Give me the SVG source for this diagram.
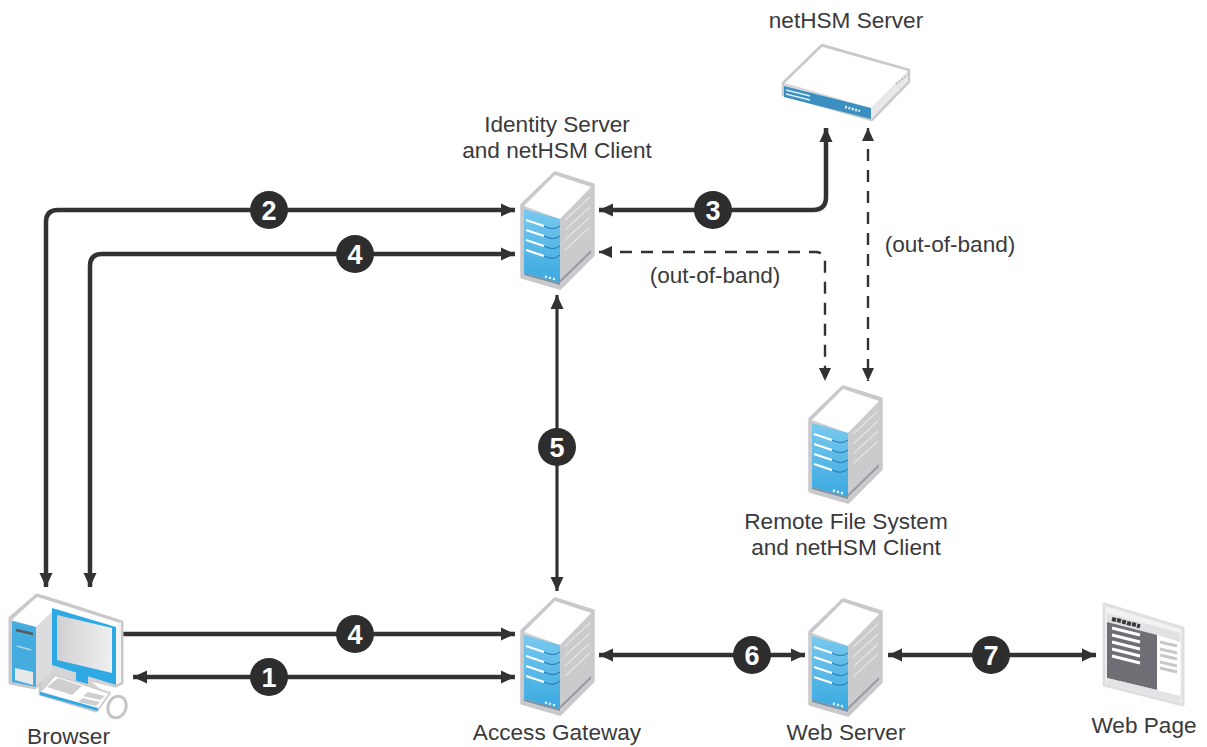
<svg xmlns="http://www.w3.org/2000/svg" xmlns:xlink="http://www.w3.org/1999/xlink" width="1207" height="747" viewBox="0 0 1207 747">
<style>
text{font-family:"Liberation Sans",Arial,sans-serif;font-size:22.6px;fill:#3a3a3c;text-anchor:middle}
.c{fill:none;stroke:#323232;stroke-width:4.5}
.t{fill:none;stroke:#323232;stroke-width:3.2}
.d{fill:none;stroke:#323232;stroke-width:2.4;stroke-dasharray:12 9}
.b{fill:#2d2d2d}
text.n{font-size:27px;font-weight:700;fill:#fff}
</style>
<defs>
<marker id="a" markerUnits="userSpaceOnUse" markerWidth="15" markerHeight="14" refX="14" refY="7" orient="auto-start-reverse"><path d="M0,0.5L14,7L0,13.5Z" fill="#323232"/></marker>
<marker id="e" markerUnits="userSpaceOnUse" markerWidth="14" markerHeight="14" refX="13" refY="6.5" orient="auto-start-reverse"><path d="M0,0.5L13,6.5L0,12.5Z" fill="#323232"/></marker>
<linearGradient id="bl" x1="0" y1="0" x2="0" y2="1"><stop offset="0" stop-color="#79c9ee"/><stop offset="1" stop-color="#3aa9e0"/></linearGradient>
<linearGradient id="sc" x1="0" y1="0" x2="1" y2="0"><stop offset="0" stop-color="#d0d0d2"/><stop offset="1" stop-color="#f0f0f0"/></linearGradient>
<g id="srv">
<path d="M33,0L71,12V82L38,115L0,104V32Z" fill="#cfcfd1" stroke="#c9c9cb" stroke-width="3.500" stroke-linejoin="round"/>
<path d="M2,33L33,2L69,14L38,46Z" fill="#fff"/>
<path d="M2,36L38,46V110L2,100Z" fill="url(#bl)"/>
<path d="M2,100L38,110V112L2,102Z" fill="#7d8fa0"/>
<path d="M38,46L69,16V80L38,110Z" fill="#cbcbcd"/>
<path d="M38,110L69,80V77L38,107Z" fill="#9a9aa6"/>
<path d="M4,47L22,53M4,57L22,63M4,67L22,73M4,77L22,83" stroke="#fff" stroke-width="2.200" fill="none"/>
<path d="M22,53Q31,58 38,53M22,63Q31,68 38,63M22,73Q31,78 38,73M22,83Q31,88 38,82" stroke="#2272b0" stroke-width="1" fill="none"/>
<path d="M43,47L68,24M43,57L68,34M43,67L68,44M43,77L68,54" stroke="#e4e4e4" stroke-width="1.300" fill="none"/>
<path d="M23,103.500l2,.6M27,104.600l2,.6M31,105.700l2,.6" stroke="#e8f4fb" stroke-width="2.400"/>
</g>
</defs>

<g id="connectors">
<path class="c" d="M515,210H58Q46,210 46,222V587" marker-start="url(#a)" marker-end="url(#a)"/>
<path class="c" d="M515,254H102Q90,254 90,266V587" marker-start="url(#a)" marker-end="url(#a)"/>
<path class="c" d="M122,634H515" marker-end="url(#a)"/>
<path class="c" d="M133,677H515" marker-start="url(#a)" marker-end="url(#a)"/>
<path class="c" d="M599,210H813Q826,210 826,197V128" marker-start="url(#a)" marker-end="url(#a)"/>
<path class="t" d="M557,295V591" marker-start="url(#a)" marker-end="url(#a)"/>
<path class="c" d="M599,655H805" marker-start="url(#a)" marker-end="url(#a)"/>
<path class="c" d="M888,655H1096" marker-start="url(#a)" marker-end="url(#a)"/>
<path class="d" d="M599,252H815Q825,252 825,262V381" marker-start="url(#e)" marker-end="url(#e)"/>
<path class="d" d="M868,128V381" marker-start="url(#e)" marker-end="url(#e)"/>
</g>

<g id="badge-2"><circle class="b" cx="269" cy="210" r="19"/><text class="n" x="269" y="219.500">2</text></g>
<g id="badge-4a"><circle class="b" cx="355" cy="254" r="19"/><text class="n" x="355" y="263.500">4</text></g>
<g id="badge-3"><circle class="b" cx="713" cy="210" r="19"/><text class="n" x="713" y="219.500">3</text></g>
<g id="badge-5"><circle class="b" cx="557" cy="447" r="19"/><text class="n" x="557" y="456.500">5</text></g>
<g id="badge-4b"><circle class="b" cx="355" cy="634" r="19"/><text class="n" x="355" y="643.500">4</text></g>
<g id="badge-1"><circle class="b" cx="269" cy="677" r="19"/><text class="n" x="269" y="686.500">1</text></g>
<g id="badge-6"><circle class="b" cx="752" cy="655" r="19"/><text class="n" x="752" y="664.500">6</text></g>
<g id="badge-7"><circle class="b" cx="991" cy="655" r="19"/><text class="n" x="991" y="664.500">7</text></g>

<g id="identity-server"><use href="#srv" x="522" y="173"/><text x="557" y="132">Identity Server</text><text x="557" y="158">and netHSM Client</text></g>
<g id="remote-file-system"><use href="#srv" x="810" y="387"/><text x="846" y="529">Remote File System</text><text x="846" y="555">and netHSM Client</text></g>
<g id="access-gateway"><use href="#srv" x="522" y="599"/><text x="557" y="740">Access Gateway</text></g>
<g id="web-server"><use href="#srv" x="810" y="600"/><text x="846" y="740">Web Server</text></g>

<g id="nethsm-server">
<text x="846" y="28">netHSM Server</text>
<path d="M822,45L909,70V82L872,120L783,95V83Z" fill="#d8d8da" stroke="#c9c9cb" stroke-width="2.500" stroke-linejoin="round"/>
<path d="M785,83L822,47L908,71L871,108Z" fill="#fff"/>
<path d="M784,86L871,108V119L784,97Z" fill="#3a8fc0"/>
<path d="M871,108L908,72V81L871,119Z" fill="#e8e8ea"/>
<path d="M786,90L810,96M786,94L810,100" stroke="#dbeef8" stroke-width="1.500"/>
<path d="M845,107L860,111" stroke="#e6f2f8" stroke-width="2.500" stroke-dasharray="2 1.500"/>
<path d="M896,84L908,75" stroke="#bdbdbf" stroke-width="2" stroke-dasharray="2 1.500"/>
</g>

<g id="browser">
<path d="M37,595L60,602L122,622V683L112,688L96,711L40,694V683L35,688L10,683V618Z" fill="#d4d4d6" stroke="#c9c9cb" stroke-width="3" stroke-linejoin="round"/>
<path d="M12,620L37,597L120,623L116,628L52,609L52,612L36,627Z" fill="#fff"/>
<path d="M12,621L36,627V687L12,682Z" fill="#45ace0"/>
<path d="M16,630L33,634" stroke="#5a5a5c" stroke-width="2.500"/>
<path d="M17,646L31,650" stroke="#b9d8ea" stroke-width="1.500"/>
<path d="M15,668L33,672V685L15,680Z" fill="#e9e9e9"/>
<path d="M36,627L52,612V670L36,686Z" fill="#dcdcde"/>
<path d="M52,608L116,627V685L52,665Z" fill="#2ea9e3"/>
<path d="M116,627L121,622V682L116,685Z" fill="#f4f4f4"/>
<path d="M57,615L112,628V673L57,660Z" fill="url(#sc)"/>
<path d="M76,667L88,670V684L76,681Z" fill="#2ea9e3"/>
<path d="M92,682L121,689V696L106,694Z" fill="#fff"/>
<path d="M40,692L55,675L110,693L98,710Z" fill="#fff" stroke="#cfcfd1" stroke-width="2" stroke-linejoin="round"/>
<path d="M40,692L98,708V711L40,695Z" fill="#2ea9e3"/>
<path d="M47,687L58,678L82,686L72,695Z" fill="#cfcfd1"/>
<path d="M88,692L105,696L100,700L83,696ZM83,698L100,702L96,706L78,702Z" fill="#cfcfd1"/>
<ellipse cx="117" cy="707" rx="9" ry="11" transform="rotate(20 117 707)" fill="#fff" stroke="#c4c4c8" stroke-width="3"/>
<text x="68.500" y="744">Browser</text>
</g>

<g id="web-page">
<path d="M1104,604L1183,628V705L1104,685Z" fill="#f2f2f3" stroke="#dfdfe1" stroke-width="3" stroke-linejoin="round"/>
<path d="M1107,613L1180,633V642L1107,622Z" fill="#e2e2e4"/>
<path d="M1112,619l4,1M1117,620l4,1M1122,621.500l4,1M1127,623l4,1M1132,624l4,1M1137,625.500l3,1" stroke="#3a3a3c" stroke-width="4"/>
<path d="M1107,622L1157,635V690L1107,678Z" fill="#6e6e75"/>
<path d="M1157,635L1180,642V700L1157,690Z" fill="#fff"/>
<path d="M1112,628L1140,635M1112,635L1140,642M1112,642L1140,649M1112,649L1140,656M1112,656L1140,663" stroke="#fff" stroke-width="3"/>
<path d="M1160,642L1177,646M1160,649L1177,653M1160,655L1177,659M1160,662L1177,666M1160,668L1177,672" stroke="#c8c8ca" stroke-width="3"/>
<path d="M1107,678L1157,690L1180,696V702L1107,684Z" fill="#e3e3e5"/>
<text x="1144" y="733">Web Page</text>
</g>

<g id="labels"><text x="715" y="283">(out-of-band)</text><text x="950" y="252">(out-of-band)</text></g>
</svg>
